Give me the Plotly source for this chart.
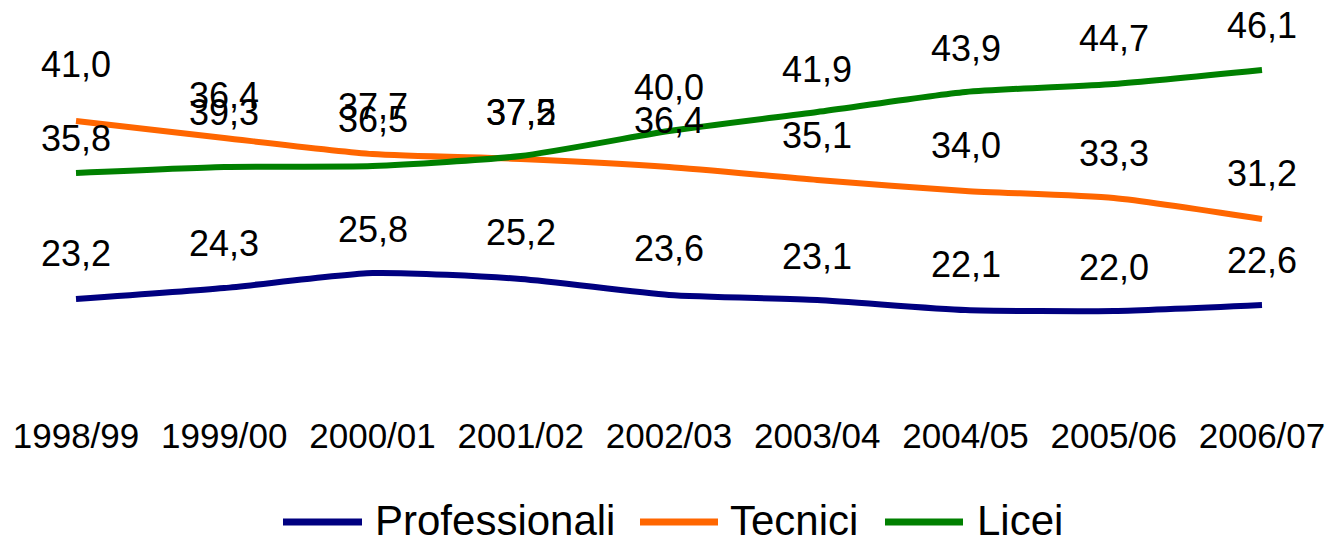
import plotly.graph_objects as go

# ---- data ----
years = ["1998/99", "1999/00", "2000/01", "2001/02", "2002/03",
         "2003/04", "2004/05", "2005/06", "2006/07"]
professionali = [23.2, 24.3, 25.8, 25.2, 23.6, 23.1, 22.1, 22.0, 22.6]
tecnici = [41.0, 39.3, 37.7, 37.2, 36.4, 35.1, 34.0, 33.3, 31.2]
licei = [35.8, 36.4, 36.5, 37.5, 40.0, 41.9, 43.9, 44.7, 46.1]

series_names = ["Professionali", "Tecnici", "Licei"]
series_values = [professionali, tecnici, licei]

# ---- style ----
colors = ["#000080", "#FF6600", "#008000"]
# vertical lift (px) of each data label above its point
label_lift = [
    [46, 45, 44, 47, 47, 44, 46, 44, 45],
    [57, 26, 48, 47, 47, 45, 46, 45, 46],
    [35, 72, 47, 44, 44, 43, 44, 46, 45],
]
FONT = "Liberation Sans, Arial, sans-serif"
W, H = 1329, 541
PLOT_BOTTOM = 410      # px from top of figure
REF_Y = 173            # px position of value 35.8
PX_PER_UNIT = 10
X_FIRST, X_LAST = 76, 1262

fig = go.Figure()
for name, vals, col in zip(series_names, series_values, colors):
    fig.add_trace(go.Scatter(
        x=list(range(len(years))), y=vals, name=name, mode="lines",
        line=dict(color=col, width=6, shape="spline", smoothing=0.6),
        showlegend=False, hoverinfo="skip"))

annotations = []
for vals, lifts in zip(series_values, label_lift):
    for i, (v, lift) in enumerate(zip(vals, lifts)):
        annotations.append(dict(
            x=i, y=v, xref="x", yref="y", text=f"{v:.1f}".replace(".", ","),
            showarrow=False, yshift=lift, xanchor="center", yanchor="middle",
            font=dict(family=FONT, size=36, color="black")))

# manual legend (long line keys like the original)
legend_line_y = 522
legend_text_y = 520
legend_items = [(283, 362, 373), (640, 718, 728), (885, 963, 975)]
shapes = []
ly = (PLOT_BOTTOM - legend_line_y) / PLOT_BOTTOM
ty = (PLOT_BOTTOM - legend_text_y) / PLOT_BOTTOM
for (x0, x1, xt), name, col in zip(legend_items, series_names, colors):
    shapes.append(dict(type="line", xref="paper", yref="paper",
                       x0=x0 / W, x1=x1 / W, y0=ly, y1=ly,
                       line=dict(color=col, width=7)))
    annotations.append(dict(x=xt / W, y=ty, xref="paper", yref="paper",
                            text=name, showarrow=False, xanchor="left",
                            yanchor="middle",
                            font=dict(family=FONT, size=42, color="black")))

px_per_cat = (X_LAST - X_FIRST) / 8
fig.update_layout(
    width=W, height=H,
    margin=dict(l=0, r=0, t=0, b=H - PLOT_BOTTOM, pad=0),
    paper_bgcolor="white", plot_bgcolor="white",
    xaxis=dict(tickmode="array", tickvals=list(range(len(years))), ticktext=years,
               range=[-X_FIRST / px_per_cat, 8 + (W - X_LAST) / px_per_cat],
               showgrid=False, zeroline=False, showline=False, ticks="",
               ticklabelstandoff=2,
               tickfont=dict(family=FONT, size=35, color="black")),
    yaxis=dict(range=[35.8 - (PLOT_BOTTOM - REF_Y) / PX_PER_UNIT,
                      35.8 + REF_Y / PX_PER_UNIT],
               visible=False, showgrid=False, zeroline=False),
    annotations=annotations, shapes=shapes,
    showlegend=False,
)
fig.write_html(
    "out.html",
    config={"displayModeBar": False},
    post_script="document.body.style.margin='0';document.body.style.overflow='hidden';",
)
